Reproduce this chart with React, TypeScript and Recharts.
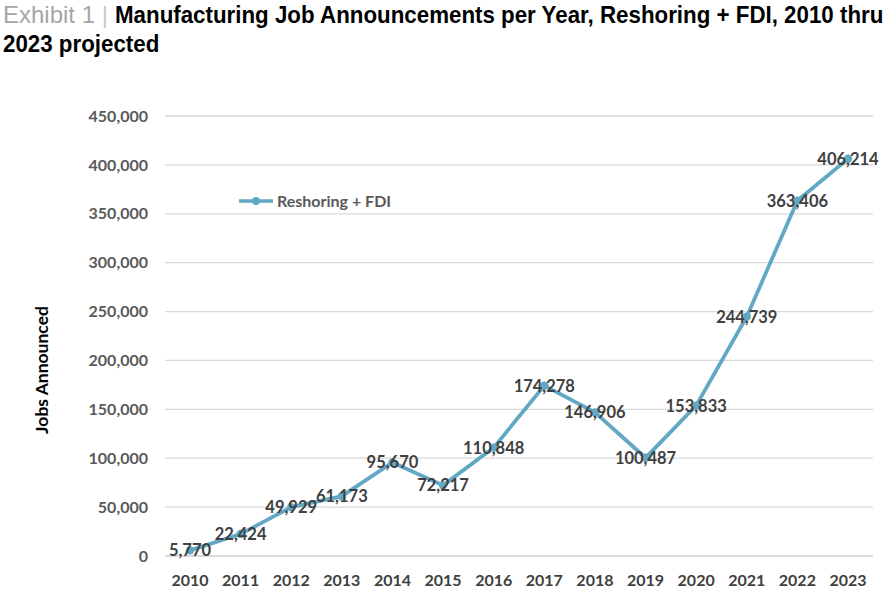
import React from 'react';
import { LineChart, Line, XAxis, YAxis, CartesianGrid, Legend, LabelList } from 'recharts';

// Reshoring + FDI job announcements per year
const years = ['2010', '2011', '2012', '2013', '2014', '2015', '2016', '2017', '2018', '2019', '2020', '2021', '2022', '2023'];
const jobs = [5770, 22424, 49929, 61173, 95670, 72217, 110848, 174278, 146906, 100487, 153833, 244739, 363406, 406214];
const yTicks = [0, 50000, 100000, 150000, 200000, 250000, 300000, 350000, 400000, 450000];

const seriesName = 'Reshoring + FDI';
const lineColor = '#62a8c5';
const labelFont = "Lato, 'Open Sans', sans-serif";
const titleFont = "'Liberation Sans', Arial, sans-serif";

const chartData = years.map((year, i) => ({ year, jobs: jobs[i] }));

const fmt = (v: number) => v.toLocaleString('en-US');

const renderPointLabel = (props: any) => {
  const { x, y, value } = props;
  return (
    <text
      x={x}
      y={y}
      textAnchor="middle"
      dominantBaseline="central"
      fill="#404040"
      fontFamily={labelFont}
      fontWeight={700}
      fontSize={16.5}
    >
      {fmt(value)}
    </text>
  );
};

const renderLegend = () => (
  <div style={{ display: 'flex', alignItems: 'center', fontFamily: labelFont, fontWeight: 700, fontSize: 16, color: '#595959' }}>
    <svg width={36} height={12} style={{ marginRight: 3 }}>
      <line x1={1} y1={6} x2={35} y2={6} stroke={lineColor} strokeWidth={3.5} />
      <circle cx={18} cy={6} r={4} fill={lineColor} />
    </svg>
    <span>{seriesName}</span>
  </div>
);

const renderAxisTitle = () => (
  <text
    x={41}
    y={370}
    transform="rotate(-90 41 370)"
    textAnchor="middle"
    dominantBaseline="central"
    fill="#000"
    fontFamily={labelFont}
    fontWeight={700}
    fontSize={17.5}
  >
    Jobs Announced
  </text>
);

export default function App() {
  const narrow: React.CSSProperties = {
    display: 'inline-block',
    transform: 'scaleX(0.93)',
    transformOrigin: 'left center',
    fontWeight: 700,
    color: '#000',
  };
  return (
    <div style={{ position: 'absolute', left: 0, top: 0, width: 891, height: 595, background: '#fff', overflow: 'hidden' }}>
      <div
        style={{
          position: 'absolute',
          left: 3,
          top: 0,
          width: 1000,
          fontFamily: titleFont,
          fontSize: 24,
          lineHeight: '29px',
          whiteSpace: 'nowrap',
        }}
      >
        <div>
          <span style={{ color: '#a6a6a6' }}>Exhibit 1 </span>
          <span style={{ color: '#c8c8c8' }}>| </span>
          <span style={narrow}>Manufacturing Job Announcements per Year, Reshoring + FDI, 2010 thru</span>
        </div>
        <div>
          <span style={narrow}>2023 projected</span>
        </div>
      </div>
      <div style={{ position: 'absolute', left: 0, top: 0 }}>
        <LineChart width={891} height={595} data={chartData} margin={{ top: 116, right: 18, bottom: 9, left: 105 }}>
          <CartesianGrid vertical={false} stroke="#d9d9d9" strokeWidth={1.3} />
          <XAxis
            dataKey="year"
            height={30}
            padding={{ left: 25, right: 25 }}
            axisLine={{ stroke: '#d9d9d9', strokeWidth: 1.3 }}
            tickLine={false}
            tickSize={0}
            tickMargin={19}
            interval={0}
            tick={{ fill: '#404040', fontFamily: labelFont, fontWeight: 700, fontSize: 16 }}
          />
          <YAxis
            width={60}
            domain={[0, 450000]}
            ticks={yTicks}
            interval={0}
            axisLine={false}
            tickLine={false}
            tickSize={0}
            tickMargin={17}
            tickFormatter={fmt}
            tick={{ fill: '#595959', fontFamily: labelFont, fontWeight: 700, fontSize: 16 }}
            label={renderAxisTitle}
          />
          <Legend
            layout="horizontal"
            verticalAlign="middle"
            align="center"
            content={renderLegend}
            wrapperStyle={{ position: 'absolute', left: 238, top: 191, width: 'auto', height: 'auto' }}
          />
          <Line
            type="linear"
            dataKey="jobs"
            name={seriesName}
            stroke={lineColor}
            strokeWidth={3.8}
            dot={{ r: 4.2, fill: lineColor, stroke: lineColor, strokeWidth: 0 }}
            activeDot={false}
            isAnimationActive={false}
          >
            <LabelList dataKey="jobs" content={renderPointLabel} />
          </Line>
        </LineChart>
      </div>
    </div>
  );
}
